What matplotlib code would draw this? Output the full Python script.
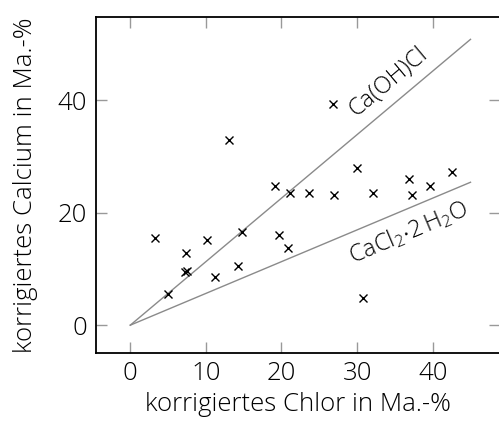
import numpy as np
import matplotlib
matplotlib.use("Agg")
import matplotlib.pyplot as plt

plt.rcParams["font.family"] = ["Open Sans", "DejaVu Sans"]
plt.rcParams["font.weight"] = "light"
plt.rcParams["mathtext.fontset"] = "custom"
plt.rcParams["mathtext.rm"] = "Open Sans:light"
plt.rcParams["mathtext.it"] = "Open Sans:light"

# measured values (corrected Cl vs corrected Ca, mass-%)
chlor = [3.3, 5.0, 7.4, 7.3, 7.5, 10.2, 11.2, 13.0, 14.2, 14.8, 19.2, 19.7,
         20.9, 21.1, 23.6, 26.8, 26.9, 30.0, 30.8, 32.1, 36.8, 37.3, 39.6, 42.6]
calcium = [15.6, 5.5, 12.9, 9.4, 9.7, 15.2, 8.6, 33.0, 10.6, 16.5, 24.8, 16.0,
           13.7, 23.5, 23.6, 39.4, 23.2, 27.9, 4.8, 23.6, 26.1, 23.1, 24.8, 27.3]

# stoichiometric reference lines
line_x = [0, 45]
ratio_caohcl = 40.08 / 35.45
ratio_cacl2 = 40.08 / 70.90

fig = plt.figure(figsize=(4.99, 4.26), dpi=100)
ax = fig.add_axes([95.5 / 499, (426 - 352.7) / 426, (500 - 95.5) / 499, (352.7 - 17.3) / 426])

ax.plot(line_x, [v * ratio_caohcl for v in line_x], color="#8a8a8a", lw=1.0)
ax.plot(line_x, [v * ratio_cacl2 for v in line_x], color="#8a8a8a", lw=1.0)
ax.plot(chlor, calcium, "x", color="black", ms=6, mew=1.0)

ax.text(34.1, 43.3, "Ca(OH)Cl", rotation=40, rotation_mode="anchor",
        ha="center", va="center", fontsize=17, fontweight="light")
ax.text(36.8, 16.4, r"CaCl$_2{\cdot}2\,$H$_2$O", rotation=22.8, rotation_mode="anchor",
        ha="center", va="center", fontsize=17, fontweight="light")

ax.set_xlim(-4.6, 48.9)
ax.set_ylim(-4.9, 54.8)
ax.set_xticks([0, 10, 20, 30, 40])
ax.set_yticks([0, 20, 40])
ax.tick_params(direction="in", length=8, width=1, color="#999999",
               top=True, right=True, labelsize=18.5, pad=6)
ax.spines["right"].set_visible(False)
for s in ["left", "top", "bottom"]:
    ax.spines[s].set_linewidth(1.3)

ax.set_xlabel("korrigiertes Chlor in Ma.-%", fontsize=18.5, fontweight="light", labelpad=4)
ax.set_ylabel("korrigiertes Calcium in Ma.-%", fontsize=18.5, fontweight="light", labelpad=14)

fig.savefig("out.png", dpi=100)
